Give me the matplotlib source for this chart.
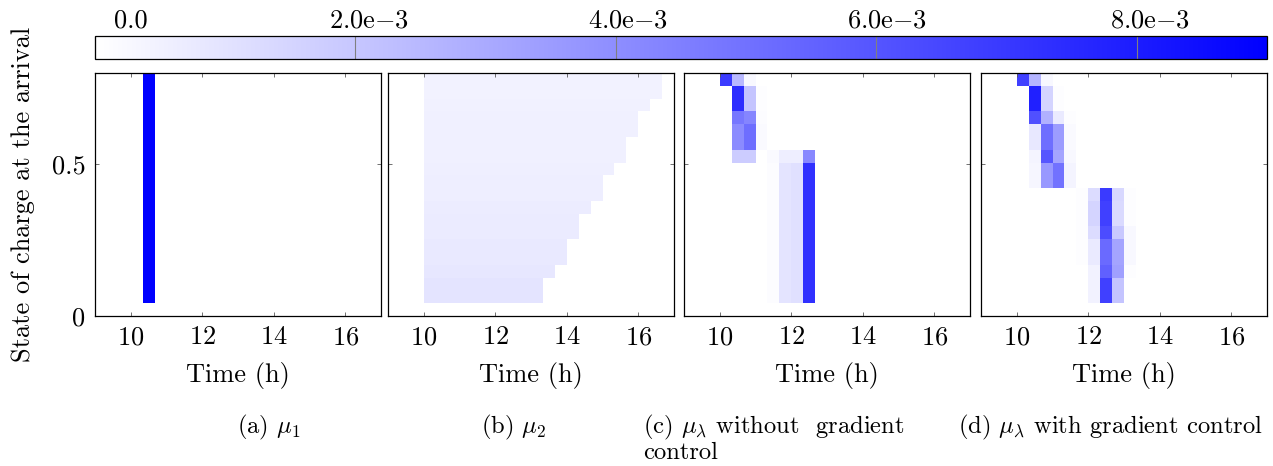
import numpy as np
import matplotlib.pyplot as plt
from matplotlib.colors import LinearSegmentedColormap

plt.rcParams['font.family'] = ['cmr10']
plt.rcParams['mathtext.fontset'] = 'cm'
plt.rcParams['axes.formatter.use_mathtext'] = True
plt.rcParams['font.size'] = 19

# 20-minute time bins from 9h to 17h, 19 state-of-charge bins from 0 to 0.8
time_edges = np.linspace(9, 17, 25)
soc_edges = np.linspace(0, 0.8, 20)

# cells, values in 1e-3: (first soc row, last soc row, start of first time bin, values)
mu1_cells = [(1, 18, 10.333, [9.0])]

# mu_2: uniform from 10h up to an end time that grows with the soc row (rows 1..18)
mu2_start = 10.0
mu2_end = [13.333, 13.333, 13.667, 14.0, 14.0, 14.333, 14.333, 14.667, 15.0,
           15.0, 15.333, 15.667, 15.667, 16.0, 16.0, 16.333, 16.667, 16.667]
mu2_value = [0.95, 0.95, 0.86, 0.79, 0.79, 0.73, 0.73, 0.68, 0.63,
             0.63, 0.59, 0.56, 0.56, 0.53, 0.53, 0.50, 0.48, 0.48]

mu_lam_plain_cells = [
    (1, 11, 11.333, [0.14, 0.95, 1.09, 7.3]),
    (12, 12, 10.333, [1.8, 1.8, 0.0, 0.18, 0.6, 0.6, 4.2]),
    (13, 14, 10.333, [4.1, 5.1, 0.18]),
    (15, 15, 10.333, [4.8, 4.3, 0.12]),
    (16, 17, 10.333, [7.4, 2.1, 0.1]),
    (18, 18, 10.0, [6.9, 2.5, 0.25]),
]

mu_lam_grad_cells = [
    (1, 2, 12.0, [0.46, 6.74, 2.08]),
    (3, 3, 12.0, [0.46, 5.6, 3.35, 0.1]),
    (4, 5, 11.667, [0.1, 0.74, 5.26, 3.21, 0.25]),
    (6, 6, 11.667, [0.1, 1.24, 6.32, 1.94, 0.25]),
    (7, 8, 11.667, [0.1, 1.52, 6.74, 1.31, 0.1]),
    (9, 9, 11.667, [0.1, 1.24, 6.95, 1.38, 0.1]),
    (10, 11, 10.333, [0.32, 3.64, 4.98, 0.39]),
    (12, 12, 10.333, [0.39, 5.96, 3.21, 0.25]),
    (13, 14, 10.333, [0.81, 5.12, 3.49, 0.18]),
    (15, 15, 10.333, [6.18, 2.79, 0.74, 0.1]),
    (16, 17, 10.333, [7.87, 1.52, 0.1]),
    (18, 18, 10.0, [6.74, 2.65, 0.25]),
]

cb_ticks = [0.0, 2.0e-3, 4.0e-3, 6.0e-3, 8.0e-3]
cb_labels = ['0.0', '2.0e$-$3', '4.0e$-$3', '6.0e$-$3', '8.0e$-$3']
vmax = 9.0e-3


def to_grid(cells):
    grid = np.zeros((len(soc_edges) - 1, len(time_edges) - 1))
    for r0, r1, t0, vals in cells:
        c0 = int(np.argmin(np.abs(time_edges - t0)))
        grid[r0:r1 + 1, c0:c0 + len(vals)] = vals
    return grid * 1e-3


mu2_cells = []
for row, (t_end, v) in enumerate(zip(mu2_end, mu2_value), start=1):
    n = int(np.argmin(np.abs(time_edges - t_end))) - int(np.argmin(np.abs(time_edges - mu2_start)))
    mu2_cells.append((row, row, mu2_start, [v] * n))

grids = [to_grid(mu1_cells), to_grid(mu2_cells),
         to_grid(mu_lam_plain_cells), to_grid(mu_lam_grad_cells)]

W, H = 1273, 466
fig = plt.figure(figsize=(W / 100, H / 100), dpi=100)
cmap = LinearSegmentedColormap.from_list('white_blue', ['white', 'blue'])

lefts = [95, 388, 684, 981]
for i, (grid, left) in enumerate(zip(grids, lefts)):
    ax = fig.add_axes([left / W, 1 - 316 / H, 286 / W, 243 / H])
    mesh = ax.pcolormesh(time_edges, soc_edges, grid, cmap=cmap, vmin=0, vmax=vmax)
    ax.set_xlim(9, 17)
    ax.set_ylim(0, 0.8)
    ax.set_xticks([10, 12, 14, 16])
    ax.set_yticks([0, 0.5])
    ax.set_yticklabels(['0', '0.5'])
    ax.tick_params(direction='in', top=True, right=True, length=3, width=0.6,
                   color='0.35', pad=7)
    ax.set_xlabel('Time (h)', labelpad=9)
    if i == 0:
        ax.set_ylabel('State of charge at the arrival', labelpad=12)
    else:
        ax.tick_params(labelleft=False)
    for s in ax.spines.values():
        s.set_linewidth(0.9)

# colour bar across the top
cax = fig.add_axes([95 / W, 1 - 59.3 / H, 1171.7 / W, 23.3 / H])
cb = fig.colorbar(mesh, cax=cax, orientation='horizontal')
cb.set_ticks(cb_ticks)
cax.minorticks_off()
cax.tick_params(axis='x', direction='in', length=16.8, width=0.8, color='0.5',
                labelbottom=False)
cb.outline.set_linewidth(0.9)
for v, lab, dx in zip(cb_ticks, cb_labels, [26, 9.5, 9, 8, 9.5]):
    cax.annotate(lab, xy=(v, 1), xycoords=('data', 'axes fraction'),
                 xytext=(dx, 6), textcoords='offset points', ha='center', va='baseline')

# sub-captions
cap = 17.7
fig.text(237 / W, 1 - 427 / H, r'(a) $\mu_1$', ha='left', va='center', fontsize=cap)
fig.text(481 / W, 1 - 427 / H, r'(b) $\mu_2$', ha='left', va='center', fontsize=cap)
fig.text(643 / W, 1 - 427 / H, r'(c) $\mu_\lambda$ without  gradient', ha='left', va='center', fontsize=cap)
fig.text(643 / W, 1 - 453 / H, 'control', ha='left', va='center', fontsize=cap)
fig.text(958 / W, 1 - 427 / H, r'(d) $\mu_\lambda$ with gradient control', ha='left', va='center', fontsize=cap)

fig.savefig('out.png', dpi=100)
